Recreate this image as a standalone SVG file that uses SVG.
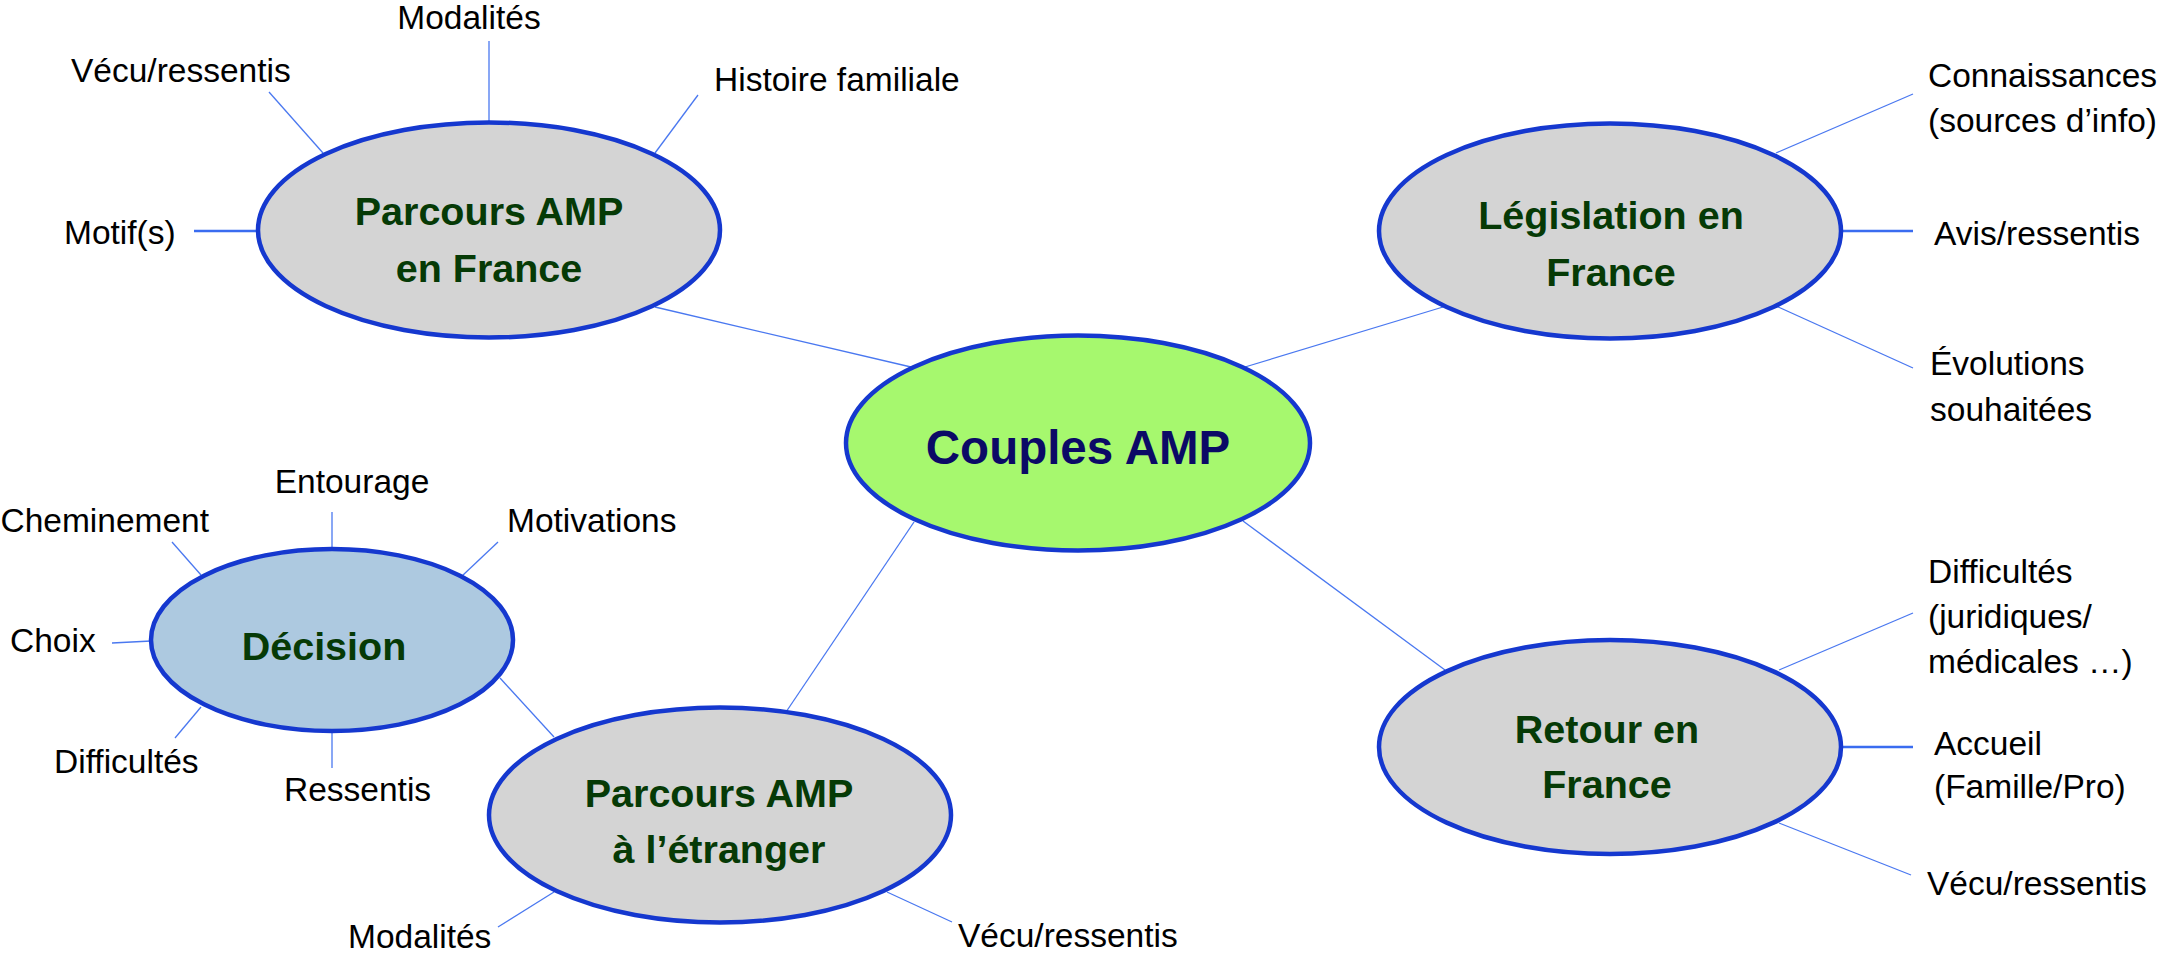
<svg xmlns="http://www.w3.org/2000/svg" width="2168" height="953" viewBox="0 0 2168 953">
<style>
.node{stroke:#1538cf;stroke-width:4.5}
.grey{fill:#d4d4d4}
.main{fill:#a6f86e}
.dec{fill:#adc9e0}
.title{font-family:"Liberation Sans",Arial,sans-serif;font-weight:bold;font-size:39.5px;fill:#063a06;text-anchor:middle}
.ctitle{font-family:"Liberation Sans",Arial,sans-serif;font-weight:bold;font-size:47.5px;fill:#0b0a66;text-anchor:middle}
.lbl{font-family:"Liberation Sans",Arial,sans-serif;font-size:33.5px;fill:#000}
.ln{stroke:#4a78f0;stroke-width:1.3;fill:none}
.thk{stroke:#3a6cf0;stroke-width:2.4;fill:none}
</style>
<rect width="2168" height="953" fill="#fff"/>
<g id="connectors">
  <line class="ln" x1="655" y1="307" x2="911" y2="367"/>
  <line class="ln" x1="1443" y1="307" x2="1245" y2="367"/>
  <line class="ln" x1="1445" y1="670" x2="1243" y2="521"/>
  <line class="ln" x1="784" y1="715" x2="914" y2="522"/>
  <line class="ln" x1="500" y1="678" x2="554" y2="737"/>
  <!-- Parcours France -->
  <line class="ln" x1="489" y1="41" x2="489" y2="125"/>
  <line class="ln" x1="269" y1="92" x2="323" y2="153"/>
  <line class="ln" x1="698" y1="95" x2="655" y2="153"/>
  <line class="thk" x1="194" y1="231" x2="258" y2="231"/>
  <!-- Legislation -->
  <line class="ln" x1="1776" y1="153" x2="1913" y2="94"/>
  <line class="thk" x1="1842" y1="231" x2="1913" y2="231"/>
  <line class="ln" x1="1776" y1="306" x2="1913" y2="368"/>
  <!-- Retour -->
  <line class="ln" x1="1779" y1="670" x2="1913" y2="613"/>
  <line class="thk" x1="1842" y1="747" x2="1913" y2="747"/>
  <line class="ln" x1="1779" y1="823" x2="1911" y2="875"/>
  <!-- Decision -->
  <line class="ln" x1="332" y1="512" x2="332" y2="549"/>
  <line class="ln" x1="172" y1="542" x2="201" y2="575"/>
  <line class="ln" x1="498" y1="542" x2="462" y2="576"/>
  <line class="ln" x1="112" y1="643" x2="151" y2="641"/>
  <line class="ln" x1="175" y1="738" x2="201" y2="707"/>
  <line class="ln" x1="332" y1="731" x2="332" y2="768"/>
  <!-- Parcours etranger -->
  <line class="ln" x1="554" y1="892" x2="498" y2="927"/>
  <line class="ln" x1="887" y1="892" x2="952" y2="922"/>
</g>
<g id="couples-amp">
  <ellipse class="node main" cx="1078" cy="443" rx="232" ry="107.5"/>
  <text class="ctitle" x="1078" y="464">Couples AMP</text>
</g>
<g id="parcours-france">
  <ellipse class="node grey" cx="489" cy="230" rx="231" ry="107.5"/>
  <text class="title" x="489" y="225">Parcours AMP</text>
  <text class="title" x="489" y="282">en France</text>
  <text class="lbl" x="469" y="29" text-anchor="middle">Modalités</text>
  <text class="lbl" x="71" y="82">Vécu/ressentis</text>
  <text class="lbl" x="714" y="91">Histoire familiale</text>
  <text class="lbl" x="64" y="244">Motif(s)</text>
</g>
<g id="legislation">
  <ellipse class="node grey" cx="1610" cy="231" rx="231" ry="107.5"/>
  <text class="title" x="1611" y="229">Législation en</text>
  <text class="title" x="1611" y="286">France</text>
  <text class="lbl" x="1928" y="87">Connaissances</text>
  <text class="lbl" x="1928" y="132">(sources d’info)</text>
  <text class="lbl" x="1934" y="245">Avis/ressentis</text>
  <text class="lbl" x="1930" y="375">Évolutions</text>
  <text class="lbl" x="1930" y="421">souhaitées</text>
</g>
<g id="retour">
  <ellipse class="node grey" cx="1610" cy="747" rx="231" ry="107"/>
  <text class="title" x="1607" y="743">Retour en</text>
  <text class="title" x="1607" y="798">France</text>
  <text class="lbl" x="1928" y="583">Difficultés</text>
  <text class="lbl" x="1928" y="628">(juridiques/</text>
  <text class="lbl" x="1928" y="673">médicales …)</text>
  <text class="lbl" x="1934" y="755">Accueil</text>
  <text class="lbl" x="1934" y="798">(Famille/Pro)</text>
  <text class="lbl" x="1927" y="895">Vécu/ressentis</text>
</g>
<g id="decision">
  <ellipse class="node dec" cx="332" cy="640" rx="181" ry="91"/>
  <text class="title" x="324" y="660">Décision</text>
  <text class="lbl" x="352" y="493" text-anchor="middle">Entourage</text>
  <text class="lbl" x="209" y="532" text-anchor="end">Cheminement</text>
  <text class="lbl" x="507" y="532">Motivations</text>
  <text class="lbl" x="10" y="652">Choix</text>
  <text class="lbl" x="54" y="773">Difficultés</text>
  <text class="lbl" x="284" y="801">Ressentis</text>
</g>
<g id="parcours-etranger">
  <ellipse class="node grey" cx="720" cy="815" rx="231" ry="107.5"/>
  <text class="title" x="719" y="807">Parcours AMP</text>
  <text class="title" x="719" y="863">à l’étranger</text>
  <text class="lbl" x="348" y="948">Modalités</text>
  <text class="lbl" x="958" y="947">Vécu/ressentis</text>
</g>
</svg>
